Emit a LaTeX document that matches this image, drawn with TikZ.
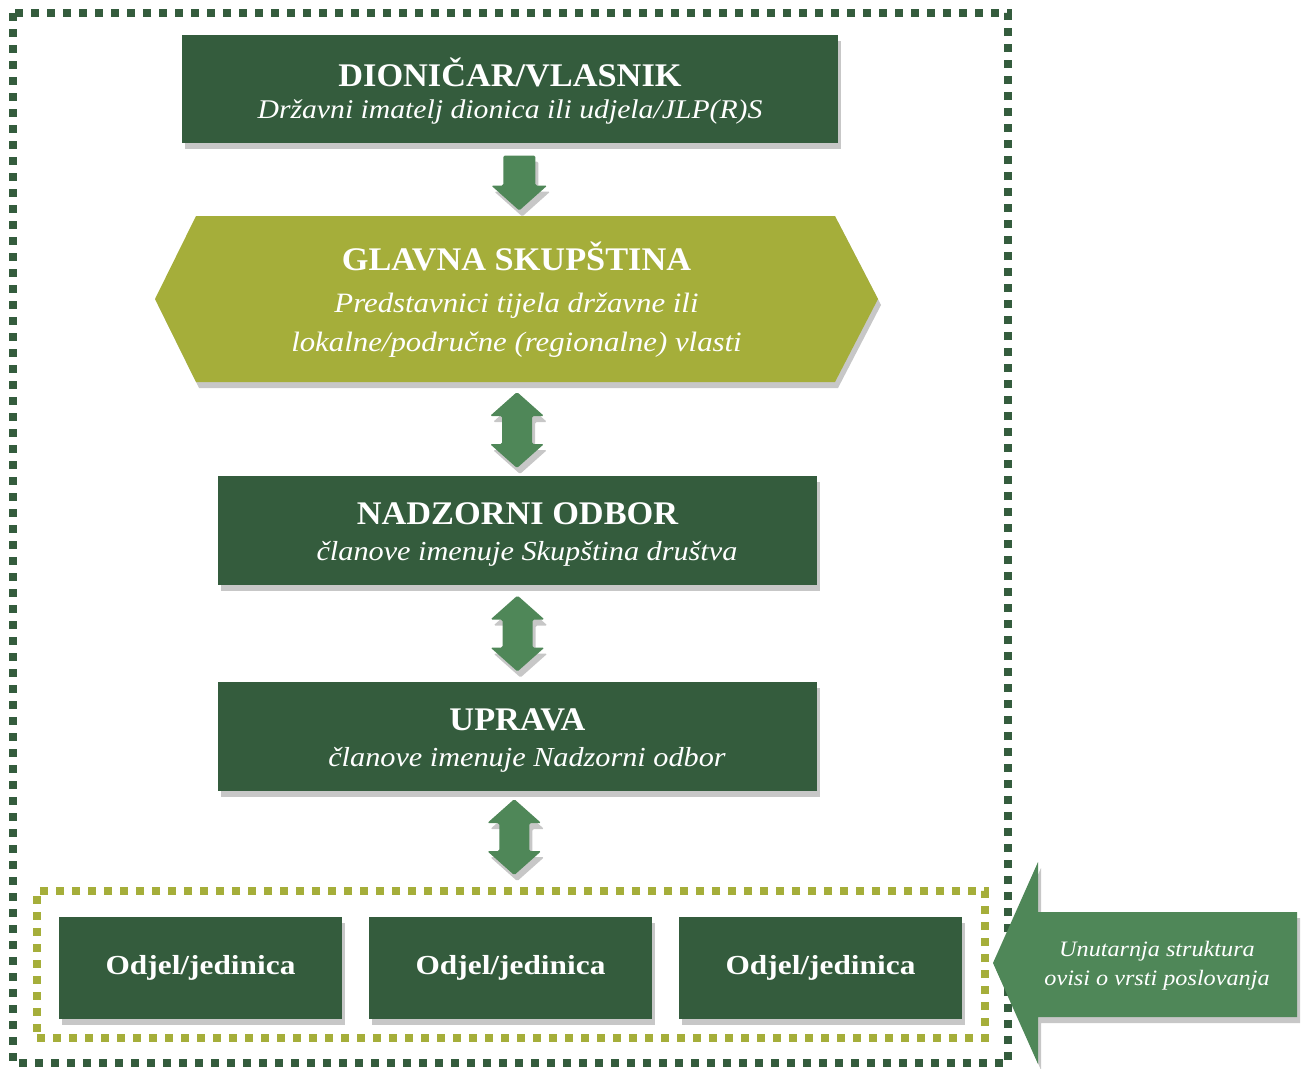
\documentclass[tikz,border=0pt]{standalone}
\usepackage{fontspec}
\setmainfont{Liberation Serif}[
  BoldFeatures={FakeStretch=1.04},
  ItalicFeatures={FakeStretch=1.1}]
\newfontfamily\deptfont{Liberation Serif}[BoldFeatures={FakeStretch=1.14}]
\usetikzlibrary{shadows,calc}

\definecolor{deepgreen}{RGB}{52,92,61}
\definecolor{olivegreen}{RGB}{165,174,58}
\definecolor{midgreen}{RGB}{79,135,88}

\tikzset{
  softshadow/.style={drop shadow={shadow xshift=3pt, shadow yshift=-6pt, fill=black, opacity=0.22}},
  box/.style={fill=deepgreen, text=white, inner sep=0pt, align=center, softshadow},
  boxtext/.style={text=white, inner sep=0pt, align=center},
  frame/.style={line width=8pt, dash pattern=on 8pt off 8pt},
  updown/.pic={
    \fill[midgreen, rounded corners=1.5pt, softshadow]
      (0,-38) -- (27,-14) -- (15,-14) -- (15,14) -- (27,14) -- (0,38)
      -- (-27,14) -- (-15,14) -- (-15,-14) -- (-27,-14) -- cycle;
  },
  downarrow/.pic={
    \fill[midgreen, rounded corners=1.5pt, softshadow]
      (-16,-27.5) -- (16,-27.5) -- (16,2.5) -- (28,2.5) -- (0,27.5)
      -- (-28,2.5) -- (-16,2.5) -- cycle;
  }
}

\begin{document}
\begin{tikzpicture}[x=1pt, y=-1pt]
\useasboundingbox (0,0) rectangle (1303,1068);

% outer frame of the company
\draw[frame, deepgreen] (13,13) rectangle (1008,1063);

% shareholder
\node[box, minimum width=656, minimum height=108] (dion) at (510,89) {};
\node[boxtext, font=\fontsize{27}{32}\selectfont] (diontext) at ($(dion.center)+(0,2)$)
  {{\fontsize{33}{33}\selectfont\bfseries DIONIČAR/VLASNIK}\\
   {\itshape Državni imatelj dionica ili udjela/JLP(R)S}};

% general assembly (hexagon)
\fill[olivegreen, softshadow] (155,299) -- (196,216) -- (835,216) -- (878,299)
  -- (835,382) -- (196,382) -- cycle;
\node[boxtext, font=\fontsize{28}{39}\selectfont,
      minimum width=723, minimum height=166] (glavna) at (516.5,300)
  {{\fontsize{33}{33}\selectfont\bfseries GLAVNA SKUPŠTINA}\\[3pt]
   {\itshape Predstavnici tijela državne ili}\\
   {\itshape lokalne/područne (regionalne) vlasti}};

% supervisory board
\node[box, minimum width=599, minimum height=109] (nadzor) at (517.5,530.5) {};
\node[boxtext, font=\fontsize{27.5}{36}\selectfont] (nadzortext) at ($(nadzor.center)+(0,4)$)
  {{\fontsize{33}{33}\selectfont\bfseries NADZORNI ODBOR}\\
   {\hspace*{19pt}\itshape članove imenuje Skupština društva}};

% management
\node[box, minimum width=599, minimum height=109] (uprava) at (517.5,736.5) {};
\node[boxtext, font=\fontsize{27.5}{36}\selectfont] (upravatext) at ($(uprava.center)+(0,4)$)
  {{\fontsize{33}{33}\selectfont\bfseries UPRAVA}\\
   {\hspace*{19pt}\itshape članove imenuje Nadzorni odbor}};

% departments
\node[draw=olivegreen, frame, minimum width=948, minimum height=147, inner sep=0pt]
  (unit) at (511,964.5) {};
\foreach \i/\x in {1/200.5, 2/510.5, 3/820.5}
  \node[box, minimum width=283, minimum height=102,
        font=\deptfont\fontsize{27.5}{27.5}\selectfont\bfseries] (odjel\i) at (\x,968) {Odjel/jedinica};

% arrows between levels
\pic at ($(dion.south)!0.5!(glavna.north)+(6,3)$) {downarrow};
\pic at ($(glavna.south)!0.5!(nadzor.north)+(0,0.5)$) {updown};
\pic at ($(nadzor.south)!0.5!(uprava.north)$) {updown};
\pic at ($(uprava.south)!0.5!(unit.north)+(0,-2)$) {updown};

% callout
\fill[midgreen, softshadow] (993,963) -- (1038,862) -- (1038,912) -- (1297,912)
  -- (1297,1017) -- (1038,1017) -- (1038,1064) -- cycle;
\node[boxtext, font=\fontsize{22}{29}\selectfont\itshape]
  (note) at (1157,966) {Unutarnja struktura\\ovisi o vrsti poslovanja};
\end{tikzpicture}
\end{document}
